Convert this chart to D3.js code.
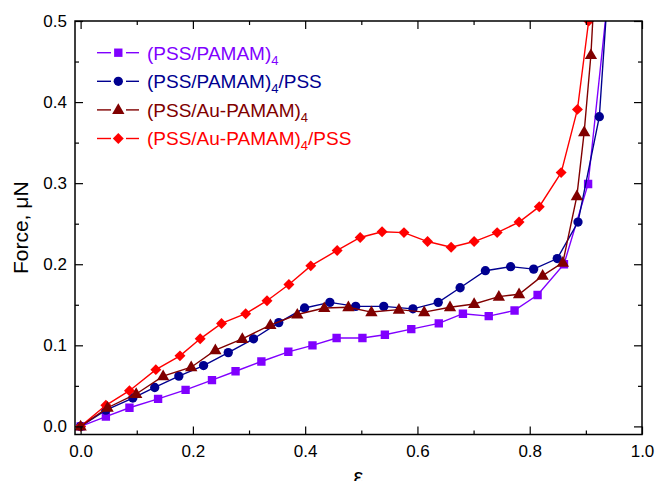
<!DOCTYPE html>
<html><head><meta charset="utf-8">
<script src="https://cdn.jsdelivr.net/npm/d3@7"></script>
<style>html,body{margin:0;padding:0;background:#fff;}svg{display:block;font-family:"Liberation Sans",Arial,sans-serif;}</style>
</head><body>
<svg id="c" width="656" height="481"></svg>
<script>
// ---- data ----
const xPSS_PAMAM = [0, 0.045, 0.087, 0.138, 0.187, 0.234, 0.276, 0.322, 0.370, 0.413, 0.456, 0.502, 0.542, 0.589, 0.638, 0.681, 0.727, 0.773, 0.814, 0.861, 0.904, 0.95];
const yPSS_PAMAM = [0, 0.012, 0.023, 0.034, 0.045, 0.057, 0.068, 0.080, 0.092, 0.100, 0.109, 0.109, 0.113, 0.120, 0.127, 0.139, 0.136, 0.143, 0.162, 0.200, 0.299, 0.60];

const xPSS_PAMAM_PSS = [0, 0.045, 0.093, 0.132, 0.175, 0.219, 0.263, 0.308, 0.353, 0.399, 0.444, 0.490, 0.540, 0.592, 0.637, 0.676, 0.721, 0.766, 0.807, 0.849, 0.886, 0.924, 0.96];
const yPSS_PAMAM_PSS = [0, 0.020, 0.035, 0.048, 0.062, 0.075, 0.091, 0.108, 0.128, 0.146, 0.153, 0.148, 0.148, 0.145, 0.153, 0.171, 0.192, 0.197, 0.194, 0.207, 0.252, 0.382, 0.75];

const xPSS_AuPAMAM = [0, 0.048, 0.099, 0.147, 0.197, 0.240, 0.288, 0.338, 0.386, 0.434, 0.477, 0.518, 0.567, 0.612, 0.658, 0.701, 0.745, 0.781, 0.823, 0.859, 0.884, 0.897, 0.909, 0.92];
const yPSS_AuPAMAM = [0, 0.023, 0.040, 0.062, 0.073, 0.094, 0.108, 0.125, 0.138, 0.146, 0.147, 0.141, 0.144, 0.141, 0.147, 0.151, 0.160, 0.163, 0.186, 0.202, 0.284, 0.363, 0.458, 0.60];

const xPSS_AuPAMAM_PSS = [0, 0.045, 0.087, 0.134, 0.177, 0.213, 0.251, 0.294, 0.332, 0.371, 0.410, 0.457, 0.498, 0.537, 0.576, 0.618, 0.660, 0.701, 0.742, 0.781, 0.817, 0.856, 0.885, 0.905];
const yPSS_AuPAMAM_PSS = [0, 0.026, 0.044, 0.070, 0.087, 0.108, 0.127, 0.139, 0.155, 0.175, 0.198, 0.217, 0.233, 0.240, 0.239, 0.228, 0.221, 0.228, 0.239, 0.252, 0.271, 0.313, 0.391, 0.500];

const xTicks = [0, 0.2, 0.4, 0.6, 0.8, 1.0];
const xMinorTicks = [0.1, 0.3, 0.5, 0.7, 0.9];
const yTicks = [0, 0.1, 0.2, 0.3, 0.4, 0.5];
const yMinorTicks = [0.05, 0.15, 0.25, 0.35, 0.45];
const xTitle = "ε";
const yTitle = "Force, μN";

const series = [
  {name:"(PSS/PAMAM)", sub:"4", tail:"", color:"#8000FF", shape:"square", xs:xPSS_PAMAM, ys:yPSS_PAMAM, order:0},
  {name:"(PSS/PAMAM)", sub:"4", tail:"/PSS", color:"#000090", shape:"circle", xs:xPSS_PAMAM_PSS, ys:yPSS_PAMAM_PSS, order:1},
  {name:"(PSS/Au-PAMAM)", sub:"4", tail:"", color:"#800000", shape:"triangle", xs:xPSS_AuPAMAM, ys:yPSS_AuPAMAM, order:3},
  {name:"(PSS/Au-PAMAM)", sub:"4", tail:"/PSS", color:"#FF0000", shape:"diamond", xs:xPSS_AuPAMAM_PSS, ys:yPSS_AuPAMAM_PSS, order:2}
];

(function(){
// ---- layout ----
const L = 75, R = 642, T = 21, B = 434.5;
const svg = d3.select("#c");
const x = d3.scaleLinear().domain([-0.01, 1.0]).range([L, R]);
const y = d3.scaleLinear().domain([-0.01, 0.5]).range([B, T]);

svg.append("defs").append("clipPath").attr("id", "plotclip")
  .append("rect").attr("x", L).attr("y", T).attr("width", R - L).attr("height", B - T);

const symType = {square:d3.symbolSquare, circle:d3.symbolCircle, triangle:d3.symbolTriangle, diamond:d3.symbolSquare};
const symSize = {square:70, circle:68, triangle:66, diamond:60};
function sym(shape){ return d3.symbol().type(symType[shape]).size(symSize[shape])(); }
function symTransform(shape, px, py){
  let t = `translate(${px},${py})`;
  if (shape === "diamond") t += " rotate(45)";
  if (shape === "triangle") t += " translate(0,0.5)";
  return t;
}

const plot = svg.append("g").attr("clip-path", "url(#plotclip)");
const line = d3.line().x(d => x(d[0])).y(d => y(d[1]));
const drawOrder = series.slice().sort((a,b)=>a.order-b.order);
drawOrder.forEach(s => {
  const pts = s.xs.map((v,i)=>[v, s.ys[i]]);
  const g = plot.append("g");
  g.append("path").datum(pts).attr("d", line).attr("fill","none").attr("stroke", s.color).attr("stroke-width",1.4);
  g.selectAll("path.m").data(pts).join("path").attr("class","m")
    .attr("d", sym(s.shape)).attr("transform", d => symTransform(s.shape, x(d[0]), y(d[1])))
    .attr("fill", s.color);
});

// ---- axes (inward ticks, mirrored) ----
svg.append("g").attr("transform",`translate(0,${B})`)
  .call(d3.axisBottom(x).tickValues(xTicks).tickSize(-8).tickFormat(d3.format(".1f")).tickPadding(10.5));
svg.append("g").attr("transform",`translate(0,${B})`)
  .call(d3.axisBottom(x).tickValues(xMinorTicks).tickSize(-4).tickFormat(""));
svg.append("g").attr("transform",`translate(0,${T})`)
  .call(d3.axisTop(x).tickValues(xTicks).tickSize(-8).tickFormat(""));
svg.append("g").attr("transform",`translate(0,${T})`)
  .call(d3.axisTop(x).tickValues(xMinorTicks).tickSize(-4).tickFormat(""));
svg.append("g").attr("transform",`translate(${L},0)`)
  .call(d3.axisLeft(y).tickValues(yTicks).tickSize(-8).tickFormat(d3.format(".1f")).tickPadding(8));
svg.append("g").attr("transform",`translate(${L},0)`)
  .call(d3.axisLeft(y).tickValues(yMinorTicks).tickSize(-4).tickFormat(""));
svg.append("g").attr("transform",`translate(${R},0)`)
  .call(d3.axisRight(y).tickValues(yTicks).tickSize(-8).tickFormat(""));
svg.append("g").attr("transform",`translate(${R},0)`)
  .call(d3.axisRight(y).tickValues(yMinorTicks).tickSize(-4).tickFormat(""));
svg.selectAll(".domain").remove();
svg.selectAll(".tick line").attr("stroke","#000").attr("stroke-width",1.2);
svg.selectAll(".tick text").attr("font-size",17).attr("font-family","'Liberation Sans',Arial,sans-serif").attr("fill","#000");
svg.append("rect").attr("x",L).attr("y",T).attr("width",R-L).attr("height",B-T)
  .attr("fill","none").attr("stroke","#000").attr("stroke-width",1.5);

// titles
svg.append("text").attr("x", (L+R)/2).attr("y", 484).attr("text-anchor","middle")
  .attr("font-size",22).text(xTitle);
svg.append("text").attr("transform",`translate(28,${(T+B)/2}) rotate(-90)`).attr("text-anchor","middle")
  .attr("font-size",21).text(yTitle);

// ---- legend ----
const lg = svg.append("g");
series.forEach((s,i) => {
  const cy = 52.7 + i*28.6;
  const g = lg.append("g");
  g.append("line").attr("x1",97).attr("x2",111).attr("y1",cy).attr("y2",cy).attr("stroke",s.color).attr("stroke-width",1.4);
  g.append("line").attr("x1",126).attr("x2",139).attr("y1",cy).attr("y2",cy).attr("stroke",s.color).attr("stroke-width",1.4);
  g.append("path").attr("d", sym(s.shape)).attr("transform", symTransform(s.shape, 118.3, cy)).attr("fill", s.color);
  const t = g.append("text").attr("x",147).attr("y",cy+6.8).attr("font-size",19).attr("fill",s.color);
  t.append("tspan").text(s.name);
  t.append("tspan").attr("font-size",13).attr("dy",5).text(s.sub);
  if (s.tail) t.append("tspan").attr("dy",-5).text(s.tail);
});
})();
</script>
</body></html>
